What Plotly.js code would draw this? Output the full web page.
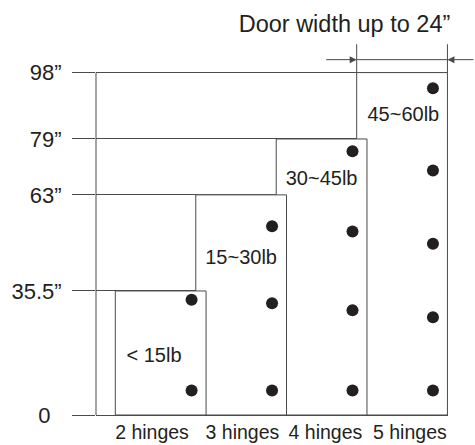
<!DOCTYPE html>
<html>
<head>
<meta charset="utf-8">
<script src="https://cdn.plot.ly/plotly-3.0.1.min.js"></script>
<style>html,body{margin:0;padding:0;background:#fff;}#chart{width:475px;height:445px;}</style>
</head>
<body>
<div id="chart"></div>
<script>
// ---- data ----
const categories = ['2 hinges', '3 hinges', '4 hinges', '5 hinges'];
const doorHeights = [35.5, 63, 79, 98];
const weightLabels = ['< 15lb', '15~30lb', '30~45lb', '45~60lb'];
const hingeHeights2 = [7, 33];
const hingeHeights3 = [7, 32, 54];
const hingeHeights4 = [7, 30, 52.5, 75.5];
const hingeHeights5 = [7, 28, 49, 70, 93.5];
const yTickVals = [0, 35.5, 63, 79, 98];
const yTickText = ['0\u2002', '35.5”', '63”', '79”', '98”'];
const weightLabelY = [16.5, 44.7, 67.2, 85.5];
const doorWidthLabel = 'Door width up to 24”';

// ---- layout constants ----
const hingeSets = [hingeHeights2, hingeHeights3, hingeHeights4, hingeHeights5];
const BOX_W = 1.128;          // door width in slot units
const DOT_DX = 0.384;         // hinge offset from door centre
const LABEL_DX = [-0.083, 0, 0, 0.016];
const TICK_DX = [-0.108, 0.016, 0.047, 0.097];
const DIM_Y = 101.7;          // dimension line height
const EXT_TOP = 106.1;
const LINE = '#4a4a4a';
const INK = '#231f20';
const FONT = 'Liberation Sans, Arial, Helvetica, sans-serif';

const traces = [];
// doors, drawn from tallest to shortest so the shorter one sits on top
for (let i = categories.length - 1; i >= 0; i--) {
  traces.push({
    type: 'bar', x: [i], y: [doorHeights[i]], base: 0, width: [BOX_W],
    marker: {color: '#ffffff', line: {color: LINE, width: 1}},
    showlegend: false, hoverinfo: 'skip'
  });
}
// hinges
const hx = [], hy = [];
hingeSets.forEach((set, i) => set.forEach(v => { hx.push(i + DOT_DX); hy.push(v); }));
traces.push({
  type: 'scatter', mode: 'markers', x: hx, y: hy,
  marker: {color: INK, size: 12, line: {width: 0}},
  showlegend: false, hoverinfo: 'skip', cliponaxis: false
});
// weight labels
traces.push({
  type: 'scatter', mode: 'text',
  x: categories.map((c, i) => i + LABEL_DX[i]), y: weightLabelY,
  text: weightLabels, textposition: 'middle center',
  textfont: {family: FONT, size: 20, color: INK},
  showlegend: false, hoverinfo: 'skip', cliponaxis: false
});

const box4 = categories.length - 1;
const layout = {
  width: 475, height: 445,
  margin: {l: 96, r: 27, t: 44, b: 30, pad: 0},
  paper_bgcolor: '#ffffff', plot_bgcolor: '#ffffff',
  barmode: 'overlay',
  showlegend: false,
  hovermode: false,
  font: {family: FONT, color: INK},
  title: {
    text: doorWidthLabel, font: {family: FONT, size: 23.5, color: INK},
    x: 0.948, xanchor: 'right', xref: 'container',
    y: 0.946, yanchor: 'middle', yref: 'container'
  },
  xaxis: {
    range: [-0.804, 3.571],
    tickmode: 'array',
    tickvals: categories.map((c, i) => i + TICK_DX[i]),
    ticktext: categories,
    ticks: '', showgrid: false, zeroline: false,
    showline: true, linecolor: LINE, linewidth: 1,
    tickfont: {family: FONT, size: 19.5, color: INK},
    ticklabelstandoff: 0,
    fixedrange: true
  },
  yaxis: {
    range: [0, 106.18],
    tickmode: 'array', tickvals: yTickVals, ticktext: yTickText,
    ticks: 'outside', ticklen: 23, tickwidth: 1, tickcolor: LINE,
    showgrid: true, gridcolor: LINE, gridwidth: 1,
    zeroline: false, showline: false,
    tickfont: {family: FONT, size: 22, color: INK},
    ticklabelstandoff: 6,
    fixedrange: true
  },
  shapes: [
    // vertical leader line at the axis
    {type: 'line', xref: 'paper', yref: 'y', x0: 0, x1: 0, y0: 0, y1: yTickVals[yTickVals.length - 1],
     line: {color: LINE, width: 1}},
    // extension lines for door width
    {type: 'line', xref: 'x', yref: 'y', x0: box4 - BOX_W / 2, x1: box4 - BOX_W / 2, y0: doorHeights[box4], y1: EXT_TOP,
     line: {color: LINE, width: 1}},
    {type: 'line', xref: 'x', yref: 'y', x0: box4 + BOX_W / 2, x1: box4 + BOX_W / 2, y0: doorHeights[box4], y1: EXT_TOP,
     line: {color: LINE, width: 1}},
    {type: 'line', xref: 'x', yref: 'y', x0: box4 - BOX_W / 2, x1: box4 + BOX_W / 2, y0: DIM_Y, y1: DIM_Y,
     line: {color: LINE, width: 1}}
  ],
  annotations: [
    {x: box4 - BOX_W / 2, y: DIM_Y, xref: 'x', yref: 'y', text: '', showarrow: true,
     ax: -32, ay: 0, arrowhead: 2, arrowsize: 1.4, arrowwidth: 1, arrowcolor: LINE, standoff: 0},
    {x: box4 + BOX_W / 2, y: DIM_Y, xref: 'x', yref: 'y', text: '', showarrow: true,
     ax: 30, ay: 0, arrowhead: 2, arrowsize: 1.4, arrowwidth: 1, arrowcolor: LINE, standoff: 0}
  ]
};

Plotly.newPlot('chart', traces, layout, {displayModeBar: false, staticPlot: true});
</script>
</body>
</html>
